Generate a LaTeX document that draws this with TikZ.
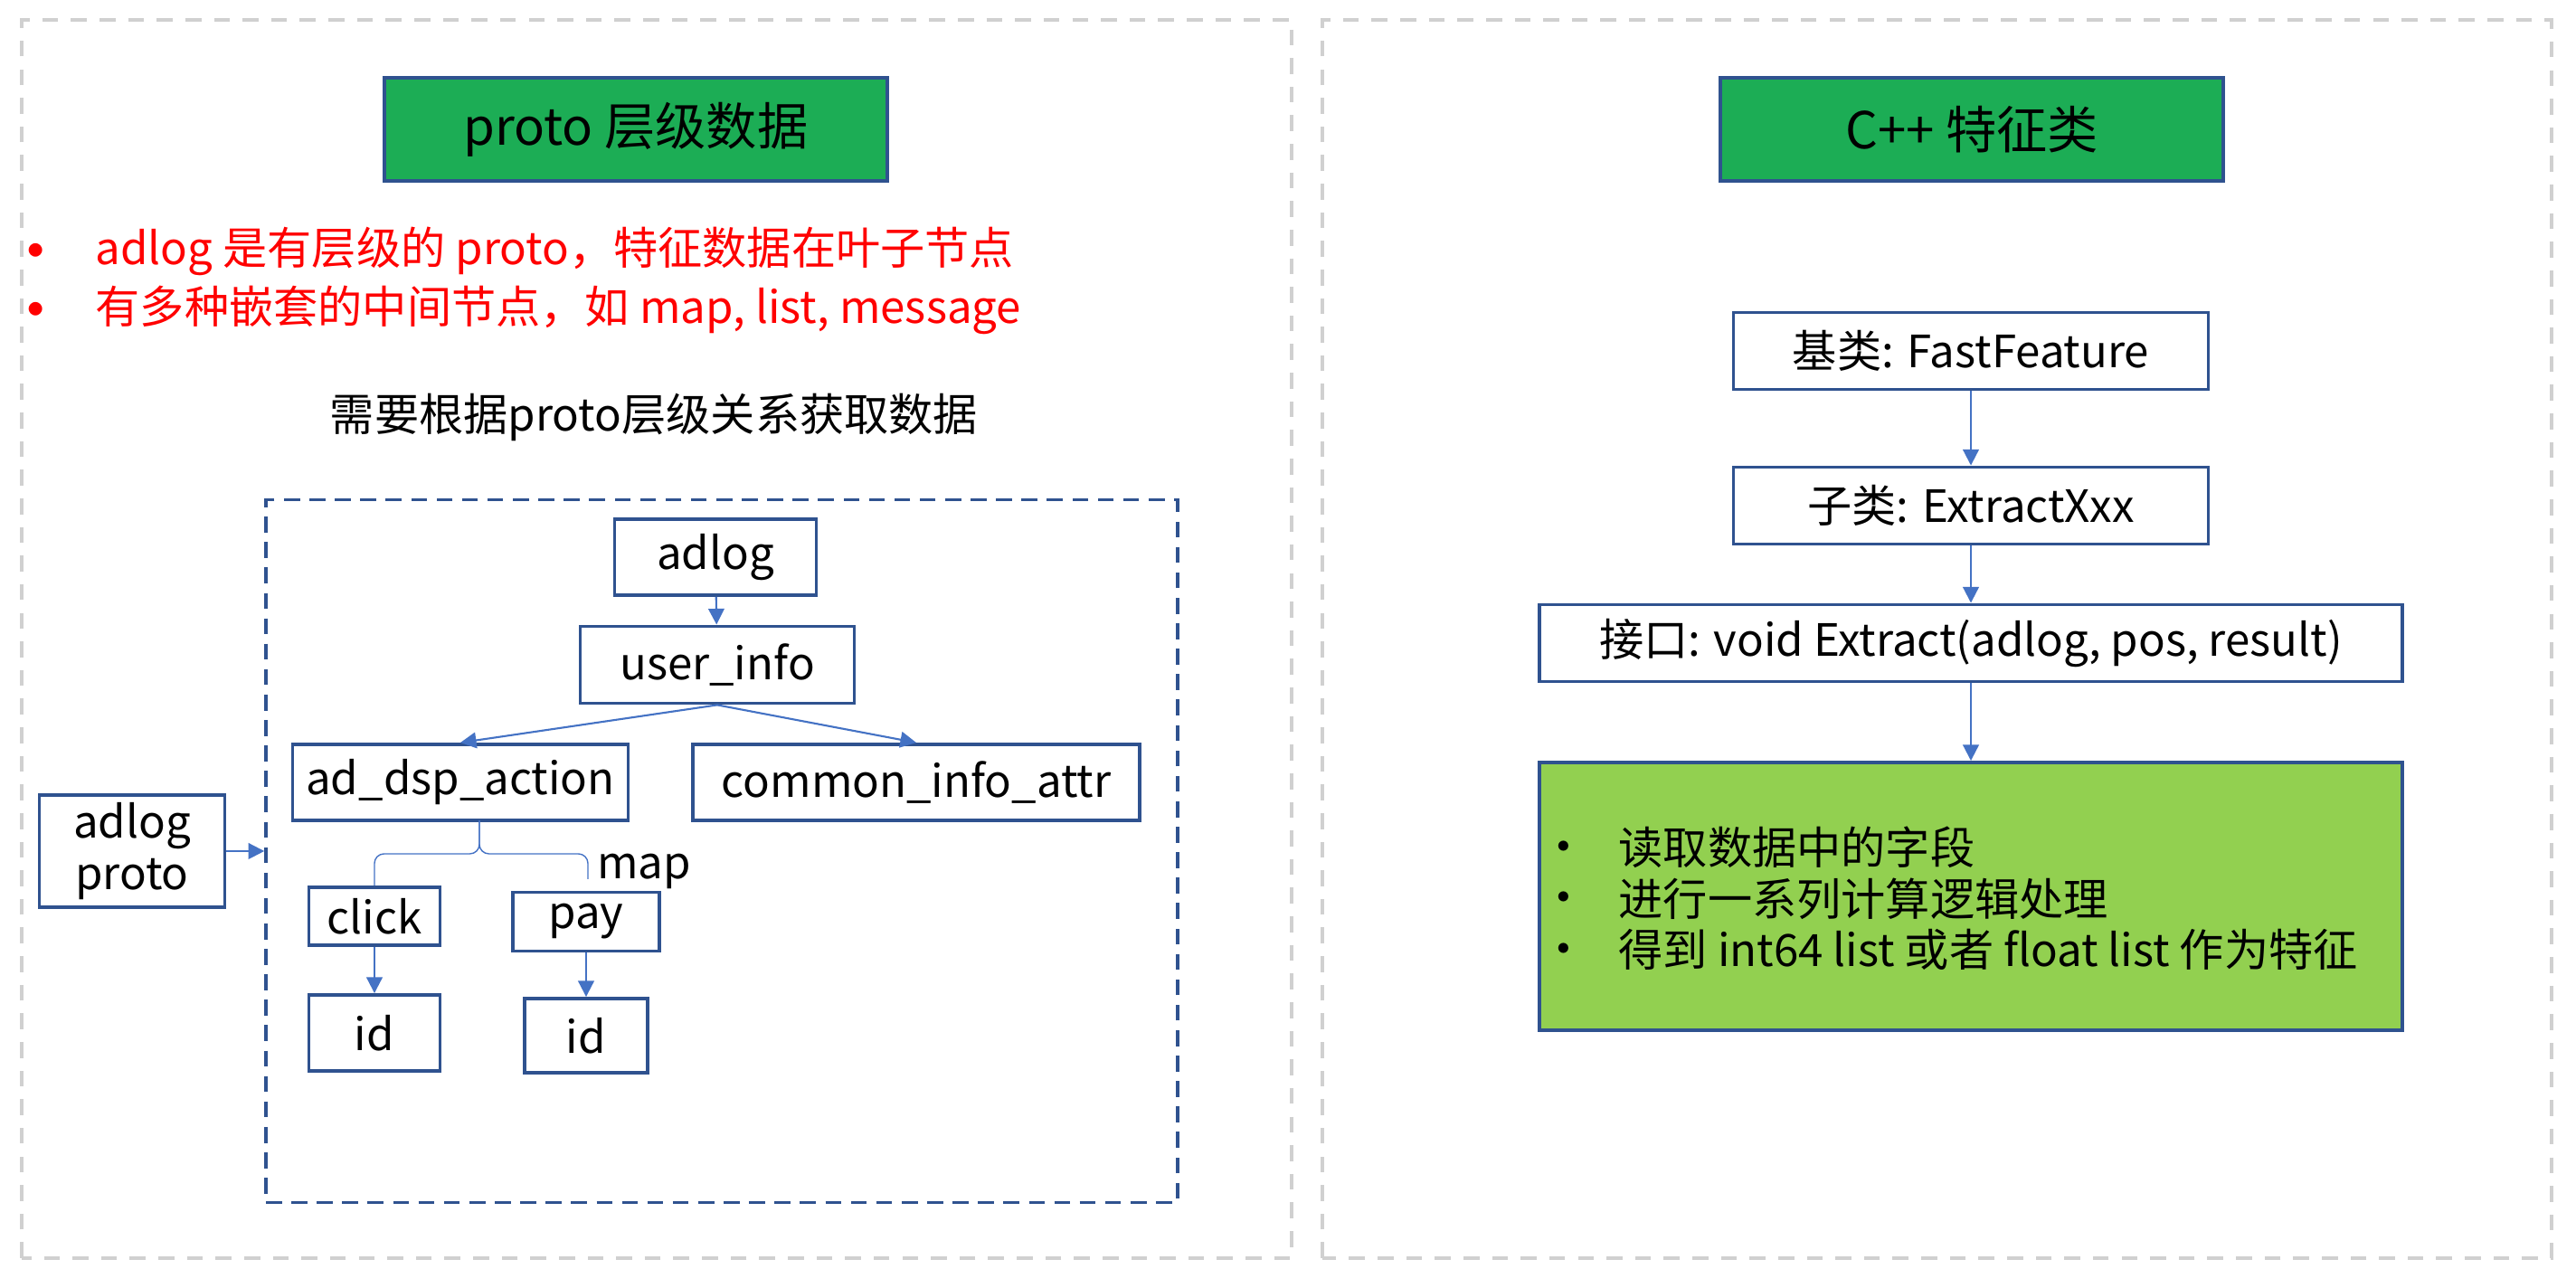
\documentclass[tikz,border=0pt]{standalone}
\usepackage{fontspec}
\setmainfont{Noto Sans CJK SC}
\usetikzlibrary{arrows.meta}
\definecolor{boxblue}{HTML}{2F528F}
\definecolor{lineblue}{HTML}{4472C4}
\definecolor{titlegreen}{HTML}{1CAD55}
\definecolor{lightgreen}{HTML}{92D050}
\definecolor{panelgray}{HTML}{D0D0D0}

\begin{document}
\begin{tikzpicture}[
	panel/.style={draw=panelgray, line width=0.9pt, dash pattern=on 5pt off 4pt},
	title box/.style={draw=boxblue, fill=titlegreen, line width=1.4pt, minimum width=5.56cm, minimum height=1.14cm, font=\fontsize{16}{19}\selectfont},
	field/.style={draw=boxblue, line width=1.1pt, inner sep=0pt, font=\fontsize{14}{16}\selectfont},
	txt/.style={inner sep=0pt, font=\fontsize{14}{17}\selectfont},
	dot/.style={inner sep=0pt, font=\fontsize{20}{20}\selectfont},
	small dot/.style={inner sep=0pt, font=\fontsize{15}{15}\selectfont},
	conn/.style={lineblue, line width=0.6pt, -{Triangle[length=5pt, width=5pt]}}]
	\useasboundingbox (0,0) rectangle (28.48,14.24);
	% two panels
	\draw[panel] (0.24,0.33) rectangle (14.28,14.02);
	\draw[panel] (14.62,0.33) rectangle (28.21,14.02);
	\node[title box] (proto title) at (7.03,12.81) {proto 层级数据};
	\node[title box] (cpp title) at (21.80,12.81) {C++ 特征类};
	% left notes
	\foreach \t [count=\i] in {{adlog 是有层级的 proto，特征数据在叶子节点}, {有多种嵌套的中间节点，如 map, list, message}}{
	  \node[dot, red] (dot\i) at (0.40,{12.03-0.65*\i}) {•};
	  \node[txt, red, anchor=west] (note\i) at (1.05,{12.11-0.65*\i}) {\t};
	}
	\node[txt] (need) at (7.23,9.63) {需要根据proto层级关系获取数据};
	% proto tree
	\node[draw=boxblue, line width=1pt, dash pattern=on 5pt off 3pt, minimum width=10.08cm, minimum height=7.77cm] (tree) at (7.98,4.83) {};
	\node[field, minimum width=2.23cm, minimum height=0.84cm] (adlog) at (7.91,8.08) {adlog};
	\node[field, minimum width=3.03cm, minimum height=0.85cm] (user) at (7.93,6.89) {user\_info};
	\node[field, minimum width=3.71cm, minimum height=0.84cm] (dsp) at (5.09,5.59) {ad\_dsp\_action};
	\node[field, minimum width=4.94cm, minimum height=0.84cm] (common) at (10.13,5.59) {common\_info\_attr};
	\node[field, minimum width=2.05cm, minimum height=1.24cm, align=center] (src) at (1.46,4.83) {adlog\\proto};
	\node[field, minimum width=1.45cm, minimum height=0.64cm] (click) at (4.14,4.11) {click};
	\node[field, minimum width=1.62cm, minimum height=0.65cm] (pay) at (6.48,4.05) {pay};
	\node[field, minimum width=1.45cm, minimum height=0.84cm] (id1) at (4.14,2.82) {id};
	\node[field, minimum width=1.36cm, minimum height=0.82cm] (id2) at (6.48,2.79) {id};
	\node[txt] (map) at (7.12,4.61) {map};
	\draw[conn] (adlog) -- (user);
	\draw[conn] (user.south) -- (dsp.north);
	\draw[conn] (user.south) -- (common.north);
	\draw[conn] (src) -- (tree.west);
	\draw[conn] (click) -- (id1);
	\draw[conn] (pay) -- (id2);
	% brace under ad_dsp_action
	\coordinate (tip) at (5.30,5.17);
	\coordinate (mid) at (5.30,4.80);
	\coordinate (mapend) at (6.50,4.52);
	\draw[lineblue, line width=0.4pt, rounded corners=3pt] (click.north) |- (mid) -- (tip);
	\draw[lineblue, line width=0.4pt, rounded corners=3pt] (mapend) |- (mid) -- (tip);
	% c++ classes
	\node[field, minimum width=5.25cm, minimum height=0.85cm] (base) at (21.79,10.36) {基类: FastFeature};
	\node[field, minimum width=5.25cm, minimum height=0.85cm] (sub) at (21.79,8.65) {子类: ExtractXxx};
	\node[field, minimum width=9.54cm, minimum height=0.85cm] (api) at (21.79,7.13) {接口: void Extract(adlog, pos, result)};
	\node[field, fill=lightgreen, minimum width=9.54cm, minimum height=2.96cm] (work) at (21.79,4.33) {};
	\foreach \t [count=\i] in {读取数据中的字段, 进行一系列计算逻辑处理, 得到 int64 list 或者 float list 作为特征}{
	  \node[small dot] (wdot\i) at (17.29,{5.38-0.565*\i}) {•};
	  \node[txt, anchor=west] (item\i) at (17.89,{5.435-0.565*\i}) {\t};
	}
	\draw[conn] (base) -- (sub);
	\draw[conn] (sub) -- (api);
	\draw[conn] (api) -- (work);
\end{tikzpicture}
\end{document}
